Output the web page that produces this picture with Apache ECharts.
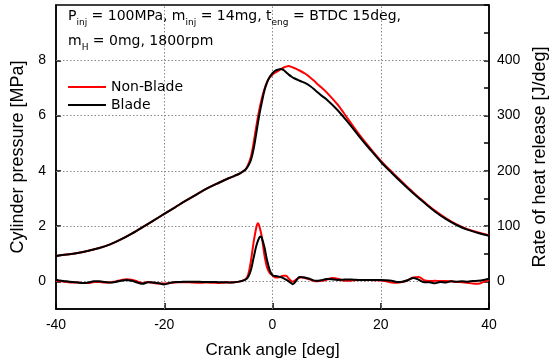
<!DOCTYPE html>
<html><head><meta charset="utf-8">
<script src="https://cdn.jsdelivr.net/npm/echarts@6/dist/echarts.min.js"></script>
<style>html,body{margin:0;padding:0;background:#fff}#c{width:551px;height:363px}</style>
</head><body><div id="c"></div>
<script>
// Crank angle [deg] for pressure traces
const pAngles = [-40,-38,-36,-34,-32,-30,-28,-26,-24,-22,-20,-18,-16,-14,-12,-10,-8,-7,-6,-5,-4.5,-4,-3.5,-3,-2.5,-2,-1.5,-1,-0.5,0,0.5,1,1.5,2,2.5,3,3.5,4,5,6,7,8,9,10,12,14,16,18,20,22,24,26,28,30,32,34,36,38,40];
// Cylinder pressure [MPa]
const pBlade = [0.92,0.97,1.03,1.11,1.21,1.34,1.52,1.73,1.96,2.20,2.44,2.68,2.92,3.15,3.37,3.56,3.74,3.82,3.91,4.04,4.17,4.38,4.78,5.35,5.95,6.45,6.90,7.20,7.40,7.53,7.62,7.66,7.68,7.65,7.57,7.48,7.41,7.35,7.26,7.18,7.06,6.90,6.73,6.58,6.20,5.74,5.25,4.78,4.33,3.93,3.55,3.19,2.85,2.53,2.26,2.04,1.87,1.75,1.65];
const pNonBlade = [0.92,0.97,1.03,1.11,1.21,1.34,1.52,1.73,1.96,2.20,2.44,2.68,2.92,3.15,3.37,3.56,3.74,3.82,3.91,4.05,4.22,4.50,5.00,5.60,6.15,6.60,6.95,7.22,7.38,7.48,7.55,7.61,7.67,7.73,7.77,7.79,7.76,7.72,7.63,7.52,7.37,7.20,7.02,6.84,6.40,5.86,5.32,4.83,4.37,3.97,3.59,3.22,2.88,2.56,2.29,2.06,1.89,1.77,1.67];
// Crank angle [deg] for heat release traces
const hAnglesBlade = [-40,-39,-38,-37,-36,-35,-34,-33,-32,-31,-30,-29,-28,-27,-26,-25,-24,-23,-22,-21,-20,-19,-18,-17,-16,-15,-14,-13,-12,-11,-10,-9,-8,-7,-6,-5,-4.5,-4,-3.5,-3,-2.5,-2.2,-2,-1.5,-1,-0.5,0,1,2,3,3.75,4.5,5,6,7,8,9,10,11,12,13,14,15,16,17,18,19,20,21,22,23,24,25,26,27,28,29,30,31,32,33,34,35,36,37,38,39,40];
// Rate of heat release [J/deg]
const hBlade = [3,1,0,-1,-2,-3,-2,0,0,-1,-2,-1,1,2.5,1,-2,-4.5,-1.5,-2,-3.5,-5.5,-3,-1,-1,-0.5,-0.5,-0.5,-1,-1,-1,-1.5,-1.5,-2,-1.5,0,3,8,20,42,64,78,81,79,62,38,20,11,9,6,0,-5,3,8,7,4,1,2,4.5,4,2.5,3,3.5,3,2.5,2.5,2.5,2.5,2.5,2,1,-1,-0.5,2,6,3,-1.5,-1.5,-3.5,-1,-2,0,-0.5,0,-0.5,0.5,1,2.5,5];
const hAnglesNonBlade = [-40,-39,-38,-37,-36,-35,-34,-33,-32,-31,-30,-29,-28,-27,-26,-25,-24,-23,-22,-21,-20,-19,-18,-17,-16,-15,-14,-13,-12,-11,-10,-9,-8,-7,-6,-5,-4.5,-4,-3.5,-3,-2.7,-2.5,-2,-1.5,-1,-0.5,0,0.5,1,2,2.5,3,3.75,4.5,5.3,6,7,8,9,10,11,12,13,14,15,16,17,18,19,20,21,22,23,24,25,26,27,28,29,30,31,32,33,34,35,36,37,38,39,40];
const hNonBlade = [1,0,-1,-2,-2,-3,-3,-1,-1,-2,-2,0,2,4,3,0,-3,-1,-3,-4,-4,-3,-2,-1.5,-1.5,-2,-2.5,-2.5,-2,-2.5,-3,-2.5,-2,-1.5,0,4,12,36,70,97,105,102,82,48,25,15,11,7,7,10,10,5,-0.5,4,7.5,6,3,0,1,3,6,5,1.5,1,2,2.5,2,2.5,2,1.5,0,-2,-2.5,-1,2,7,8,2,0.5,1,0.5,0.5,0,-1,-1.5,-2.5,-4,-4.5,-1,3];
// Axis ticks
const xTicks = [-40,-20,0,20,40];
const pTicks = [0,2,4,6,8];
const hTicks = [0,100,200,300,400];

const zip = (xs, ys) => xs.map((x, i) => [x, ys[i]]);
const chart = echarts.init(document.getElementById('c'), null, {renderer: 'canvas'});
const axisFont = 'Liberation Sans, Arial, sans-serif';
const txtFont = 'DejaVu Sans, Verdana, sans-serif';
const gridStyle = {type: [1.5, 2], color: '#8a8a8a', width: 1};
const lineBase = {type: 'line', showSymbol: false, symbol: 'none', smooth: 0.35, animation: false};

chart.setOption({
  animation: false,
  grid: {left: 56, right: 62, top: 5, bottom: 54, containLabel: false, outerBoundsMode: 'none',
    show: true, borderColor: '#000', borderWidth: 1.5, backgroundColor: 'transparent'},
  legend: {
    left: 68, top: 80, padding: 0, orient: 'vertical', itemWidth: 38, itemHeight: 2, itemGap: 4, icon: 'rect',
    data: ['Non-Blade', 'Blade'],
    textStyle: {fontFamily: txtFont, fontSize: 14, color: '#000', padding: [0, 0, 0, 0]}
  },
  graphic: [{
    type: 'text', left: 68, top: 9, z: 10,
    style: {
      text: '{n|P}{s|inj}{n| = 100MPa, m}{s|inj}{n| = 14mg, t}{s|eng}{n| = BTDC 15deg,}\n{n|m}{s|H}{n| = 0mg, 1800rpm}',
      rich: {
        n: {fontFamily: txtFont, fontSize: 14, fill: '#000', lineHeight: 25, verticalAlign: 'bottom'},
        s: {fontFamily: txtFont, fontSize: 9, fill: '#000', lineHeight: 25, verticalAlign: 'bottom', padding: [0, 0, -4, 0]}
      }
    }
  }],
  xAxis: {
    type: 'value', min: -40, max: 40, interval: 20,
    name: 'Crank angle [deg]', nameLocation: 'middle', nameGap: 33,
    nameTextStyle: {fontFamily: axisFont, fontSize: 17, color: '#000'},
    axisLine: {show: true, onZero: false, lineStyle: {color: '#000', width: 1.5}},
    axisTick: {show: true, inside: true, length: 6, lineStyle: {color: '#000', width: 1.5}},
    axisLabel: {fontFamily: axisFont, fontSize: 14, color: '#000', margin: 9, customValues: xTicks},
    splitLine: {show: false}
  },
  yAxis: [{
    type: 'value', min: -1, max: 10, interval: 1, position: 'left',
    name: 'Cylinder pressure [MPa]', nameLocation: 'middle', nameGap: 25, nameRotate: 90,
    nameTextStyle: {fontFamily: axisFont, fontSize: 18, color: '#000'},
    axisLine: {show: true, onZero: false, lineStyle: {color: '#000', width: 1.5}},
    axisTick: {show: true, inside: true, length: 5, customValues: pTicks, lineStyle: {color: '#000', width: 1.5}},
    axisLabel: {fontFamily: axisFont, fontSize: 14, color: '#000', margin: 10, customValues: pTicks,
      formatter: v => pTicks.includes(v) ? String(v) : ''},
    splitLine: {show: false}
  }, {
    type: 'value', min: -50, max: 500, interval: 50, position: 'right',
    name: 'Rate of heat release [J/deg]', nameLocation: 'middle', nameGap: 38, nameRotate: 90,
    nameTextStyle: {fontFamily: axisFont, fontSize: 18, color: '#000'},
    axisLine: {show: true, onZero: false, lineStyle: {color: '#000', width: 1.5}},
    axisTick: {show: true, inside: true, length: 5, lineStyle: {color: '#000', width: 1.5}},
    axisLabel: {fontFamily: axisFont, fontSize: 14, color: '#000', margin: 8, customValues: hTicks,
      formatter: v => hTicks.includes(v) ? String(v) : ''},
    splitLine: {show: false}
  }],
  series: [
    Object.assign({}, lineBase, {
      name: 'Non-Blade', yAxisIndex: 0, z: 3, color: '#ff0000',
      lineStyle: {color: '#ff0000', width: 2},
      data: zip(pAngles, pNonBlade),
      markLine: {
        silent: true, symbol: ['none', 'none'], label: {show: false}, z: 1, animation: false,
        lineStyle: gridStyle, emphasis: {disabled: true},
        data: pTicks.map(v => ({yAxis: v})).concat(xTicks.slice(1, -1).map(v => ({xAxis: v})))
      }
    }),
    Object.assign({}, lineBase, {
      name: 'Blade', yAxisIndex: 0, z: 4, color: '#000000',
      lineStyle: {color: '#000000', width: 2},
      data: zip(pAngles, pBlade)
    }),
    Object.assign({}, lineBase, {
      name: 'Non-Blade', yAxisIndex: 1, z: 3, color: '#ff0000',
      lineStyle: {color: '#ff0000', width: 2},
      data: zip(hAnglesNonBlade, hNonBlade)
    }),
    Object.assign({}, lineBase, {
      name: 'Blade', yAxisIndex: 1, z: 4, color: '#000000',
      lineStyle: {color: '#000000', width: 2},
      data: zip(hAnglesBlade, hBlade)
    })
  ]
});
</script>
</body></html>
